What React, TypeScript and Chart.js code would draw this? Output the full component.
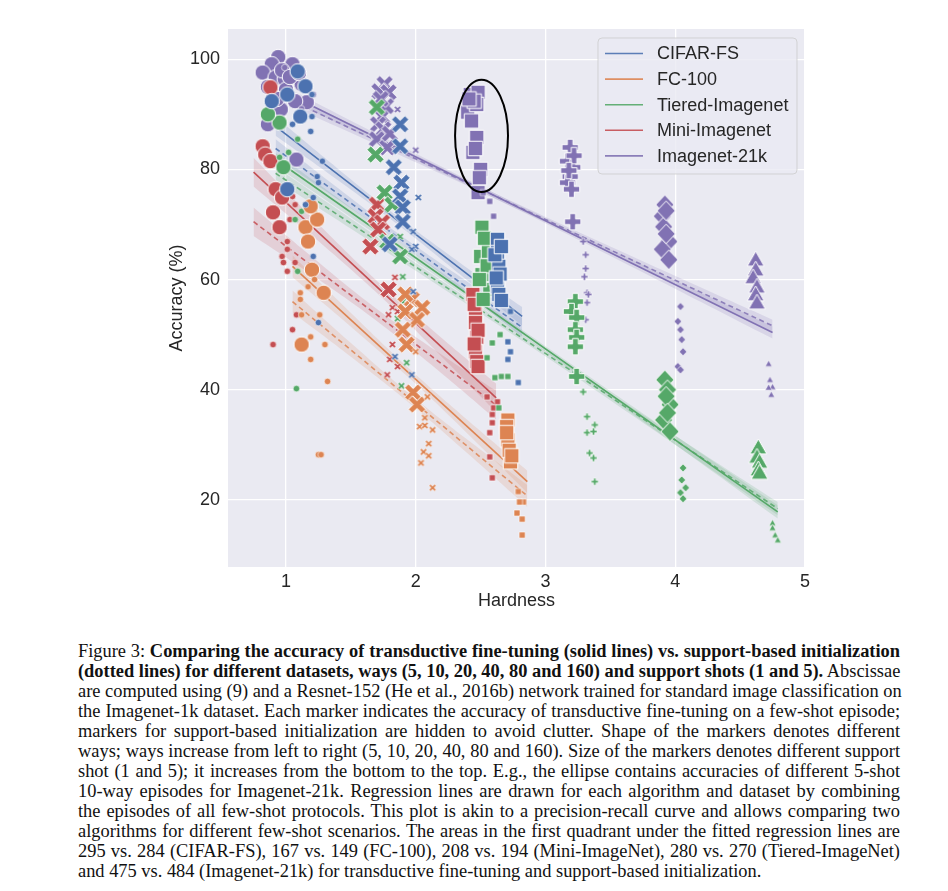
import React, { useEffect, useRef } from "react";
import { Chart, registerables } from "chart.js";

Chart.register(...registerables);

type Pt = [number, number, number]; // [ways, hardness, accuracy]

const datasetNames = ["CIFAR-FS", "FC-100", "Tiered-Imagenet", "Mini-Imagenet", "Imagenet-21k"];
const datasetColors = ["#4C72B0", "#DD8452", "#55A868", "#C44E52", "#8172B3"];
const waysList = [5, 10, 20, 40, 80, 160];
const wayMarkers = ["circle", "x", "square", "plus", "diamond", "triangle"];
const xTickValues = [1, 2, 3, 4, 5];
const yTickValues = [20, 40, 60, 80, 100];
const xRange = [0.553, 5.0];
const yRange = [7.8, 105.5];

// CIFAR-FS
const cifarFiveShot: Pt[] = [
  [5, 1.09, 97.8], [5, 1.01, 93.6], [5, 1.15, 95.1], [5, 1.11, 89.6], [5, 0.89, 92.4], [5, 1.01, 76.4],
  [10, 1.88, 88.2], [10, 1.88, 84.2], [10, 1.83, 80.4], [10, 1.89, 77.6], [10, 1.88, 75.1], [10, 1.9, 73.1], [10, 1.9, 70.5], [10, 1.8, 66.4],
  [20, 2.63, 67.3], [20, 2.63, 64.9], [20, 2.64, 62.4], [20, 2.63, 59.5], [20, 2.63, 58.7], [20, 2.64, 57.3], [20, 2.61, 64.5], [20, 2.65, 61.0],
  [20, 2.66, 66.0], [20, 2.62, 60.3], [20, 2.66, 56.2],
];
const cifarOneShot: Pt[] = [
  [5, 1.2, 93.6], [5, 1.2, 89.6], [5, 1.19, 86.9], [5, 1.28, 81.5], [5, 1.24, 78.7], [5, 1.25, 77.6], [5, 1.05, 88.2], [5, 1.21, 74.9], [5, 1.21, 64.2], [5, 1.15, 73.6], [5, 1.25, 52.2],
  [10, 2.02, 74.9], [10, 1.98, 68.7], [10, 2.0, 66.0], [10, 1.97, 65.5], [10, 1.97, 42.7], [10, 1.84, 46.0], [10, 1.98, 57.8],
  [20, 2.73, 54.2], [20, 2.71, 48.7], [20, 2.73, 46.9], [20, 2.71, 45.5], [20, 2.79, 41.3],
];
// FC-100
const fcFiveShot: Pt[] = [
  [5, 1.15, 69.5], [5, 1.24, 70.9], [5, 1.17, 66.9], [5, 1.2, 61.8], [5, 1.29, 57.6], [5, 1.12, 48.2], [5, 1.19, 73.3],
  [10, 1.97, 56.4], [10, 2.05, 54.9], [10, 1.92, 54.2], [10, 2.01, 52.7], [10, 1.9, 50.9], [10, 1.93, 48.2], [10, 1.98, 39.5], [10, 2.01, 37.3], [10, 1.92, 57.3],
  [20, 2.71, 34.5], [20, 2.7, 33.3], [20, 2.71, 30.9], [20, 2.73, 26.9], [20, 2.72, 29.0], [20, 2.7, 32.2], [20, 2.74, 28.0],
];
const fcOneShot: Pt[] = [
  [5, 1.17, 58.7], [5, 1.11, 57.6], [5, 1.11, 56.4], [5, 1.12, 53.6], [5, 1.26, 53.6], [5, 1.19, 49.6], [5, 1.3, 48.2], [5, 1.19, 45.5], [5, 1.32, 41.5], [5, 1.22, 60.0], [5, 1.25, 28.2], [5, 1.27, 28.2],
  [10, 2.09, 38.7], [10, 2.07, 34.9], [10, 2.03, 33.3], [10, 2.07, 33.5], [10, 2.13, 32.7], [10, 2.1, 30.2], [10, 2.06, 28.7], [10, 2.1, 28.0], [10, 2.04, 26.7], [10, 2.13, 22.2], [10, 2.0, 46.9],
  [20, 2.79, 21.5], [20, 2.83, 19.6], [20, 2.78, 17.6], [20, 2.82, 16.5], [20, 2.82, 13.6], [20, 2.8, 19.6],
];
// Tiered-Imagenet
const tieredFiveShot: Pt[] = [
  [5, 0.95, 88.5], [5, 0.98, 80.4], [5, 0.86, 90.0],
  [10, 1.7, 91.3], [10, 1.69, 82.7], [10, 1.76, 75.8], [10, 1.82, 73.6], [10, 1.88, 64.2], [10, 1.78, 66.9],
  [20, 2.51, 69.5], [20, 2.5, 64.2], [20, 2.51, 60.9], [20, 2.56, 65.1], [20, 2.57, 58.2], [20, 2.52, 56.4], [20, 2.53, 67.5], [20, 2.55, 62.5], [20, 2.49, 60.0],
  [40, 3.23, 56.0], [40, 3.2, 54.2], [40, 3.24, 53.1], [40, 3.23, 50.9], [40, 3.24, 49.5], [40, 3.23, 47.8], [40, 3.24, 42.4],
  [80, 3.92, 41.8], [80, 3.94, 40.0], [80, 3.96, 37.3], [80, 3.91, 34.5], [80, 3.96, 32.4], [80, 3.93, 38.8], [80, 3.94, 35.8],
  [160, 4.64, 29.5], [160, 4.63, 27.8], [160, 4.65, 26.9], [160, 4.64, 25.5], [160, 4.65, 24.9],
];
const tieredOneShot: Pt[] = [
  [5, 1.09, 85.5], [5, 1.02, 83.1], [5, 0.95, 82.2], [5, 1.12, 72.4], [5, 1.22, 72.2], [5, 1.07, 70.9], [5, 1.09, 61.5], [5, 1.08, 40.2],
  [10, 1.88, 67.8], [10, 1.9, 56.0], [10, 1.86, 52.9], [10, 1.93, 44.9], [10, 1.89, 40.7], [10, 1.9, 60.5],
  [20, 2.59, 48.5], [20, 2.55, 45.8], [20, 2.61, 42.2], [20, 2.66, 42.4], [20, 2.71, 42.4], [20, 2.65, 50.0], [20, 2.64, 36.7],
  [40, 3.29, 39.6], [40, 3.32, 35.1], [40, 3.38, 33.6], [40, 3.32, 32.2], [40, 3.37, 32.4], [40, 3.34, 28.5], [40, 3.37, 27.6], [40, 3.38, 23.3],
  [80, 4.06, 25.8], [80, 4.05, 23.6], [80, 4.08, 22.2], [80, 4.04, 21.3], [80, 4.06, 20.2],
  [160, 4.75, 15.8], [160, 4.75, 14.9], [160, 4.77, 13.6], [160, 4.79, 12.7],
];
// Mini-Imagenet
const miniFiveShot: Pt[] = [
  [5, 0.82, 84.2], [5, 0.84, 82.7], [5, 0.88, 81.5], [5, 0.88, 94.9], [5, 0.92, 76.4], [5, 0.97, 74.9], [5, 0.9, 72.2], [5, 0.95, 69.5],
  [10, 1.7, 73.6], [10, 1.69, 71.5], [10, 1.74, 70.4], [10, 1.71, 69.1], [10, 1.65, 66.0], [10, 1.79, 58.2],
  [20, 2.44, 57.3], [20, 2.46, 54.0], [20, 2.46, 52.2], [20, 2.47, 49.5], [20, 2.46, 46.9], [20, 2.47, 45.1],
  [20, 2.45, 55.5], [20, 2.48, 50.8], [20, 2.45, 48.3], [20, 2.48, 44.2],
];
const miniOneShot: Pt[] = [
  [5, 1.01, 66.9], [5, 1.01, 65.5], [5, 0.97, 64.2], [5, 0.98, 63.1], [5, 1.01, 61.5], [5, 1.03, 70.9], [5, 1.07, 63.1], [5, 1.08, 53.6], [5, 1.05, 50.9], [5, 0.9, 48.2], [5, 1.05, 75.1], [5, 1.07, 73.6],
  [10, 1.84, 60.4], [10, 1.82, 54.9], [10, 1.79, 53.6], [10, 1.86, 54.2], [10, 1.82, 48.2], [10, 1.8, 45.5], [10, 1.86, 44.2], [10, 1.78, 42.7],
  [20, 2.55, 38.7], [20, 2.59, 35.5], [20, 2.59, 34.0], [20, 2.57, 32.2], [20, 2.57, 27.8], [20, 2.59, 24.0], [20, 2.63, 37.8], [20, 2.6, 36.7],
];
// Imagenet-21k
const in21kFiveShot: Pt[] = [
  [5, 0.94, 100.4], [5, 0.89, 99.1], [5, 1.05, 99.1], [5, 0.82, 97.6], [5, 0.92, 96.7], [5, 0.99, 96.4], [5, 0.97, 98.0], [5, 1.0, 94.5], [5, 0.9, 93.0], [5, 1.12, 95.5], [5, 0.96, 90.9], [5, 0.86, 88.2], [5, 1.16, 92.2], [5, 1.07, 92.4], [5, 1.08, 81.8],
  [5, 1.03, 96.8], [5, 0.86, 95.0], [5, 1.1, 97.5], [5, 0.93, 92.8],
  [10, 1.76, 95.5], [10, 1.72, 94.2], [10, 1.79, 94.0], [10, 1.74, 89.6], [10, 1.71, 88.2], [10, 1.75, 87.3], [10, 1.7, 85.5], [10, 1.78, 84.0],
  [10, 1.77, 91.5], [10, 1.73, 92.8], [10, 1.8, 86.5],
  [20, 2.42, 93.6], [20, 2.48, 94.0], [20, 2.4, 90.4], [20, 2.47, 91.8], [20, 2.47, 85.8], [20, 2.44, 83.1], [20, 2.5, 80.0], [20, 2.48, 75.8],
  [20, 2.45, 92.4], [20, 2.43, 88.8], [20, 2.49, 78.5], [20, 2.46, 83.8], [20, 2.41, 92.8],
  [40, 3.19, 84.0], [40, 3.17, 81.5], [40, 3.21, 80.4], [40, 3.19, 78.7], [40, 3.17, 77.6], [40, 3.2, 76.4], [40, 3.21, 70.5], [40, 3.22, 82.5], [40, 3.18, 79.8],
  [80, 3.92, 73.6], [80, 3.9, 71.5], [80, 3.91, 69.6], [80, 3.95, 66.9], [80, 3.9, 65.5], [80, 3.95, 63.6], [80, 3.93, 72.5], [80, 3.93, 68.3],
  [160, 4.62, 63.6], [160, 4.62, 61.8], [160, 4.6, 60.4], [160, 4.63, 58.7], [160, 4.62, 57.3], [160, 4.63, 55.8],
];
const in21kOneShot: Pt[] = [
  [5, 1.21, 93.6], [5, 0.99, 98.5], [5, 1.12, 91.0],
  [10, 1.86, 90.9], [10, 2.0, 83.5],
  [20, 2.57, 74.2], [20, 2.6, 71.5], [20, 2.52, 75.8],
  [40, 3.29, 66.9], [40, 3.31, 64.5], [40, 3.31, 62.0], [40, 3.3, 60.5], [40, 3.32, 57.6], [40, 3.33, 57.3], [40, 3.32, 55.8], [40, 3.31, 52.7],
  [80, 4.04, 55.1], [80, 4.02, 52.4], [80, 4.04, 50.9], [80, 4.05, 49.1], [80, 4.06, 46.9], [80, 4.02, 44.2], [80, 4.04, 43.6],
  [160, 4.72, 44.7], [160, 4.73, 41.8], [160, 4.75, 40.5], [160, 4.72, 40.4], [160, 4.74, 39.1],
];

// Regression lines: [[x0, y0], [x1, y1]]
const cifarSolidFit = [[0.92, 87.8], [2.82, 53.3]];
const cifarDashedFit = [[0.92, 83.8], [2.82, 51.3]];
const fcSolidFit = [[1.05, 62.4], [2.86, 23.3]];
const fcDashedFit = [[1.05, 56.0], [2.86, 20.7]];
const tieredSolidFit = [[0.92, 81.8], [4.79, 17.8]];
const tieredDashedFit = [[0.92, 79.3], [4.79, 18.4]];
const miniSolidFit = [[0.75, 79.5], [2.62, 38.5]];
const miniDashedFit = [[0.75, 70.5], [2.62, 37.2]];
const in21kSolidFit = [[0.85, 95.6], [4.75, 50.4]];
const in21kDashedFit = [[0.85, 94.6], [4.75, 51.6]];
// confidence band half-width (accuracy points) at the ends of each fit
const bandHalfWidths = [1.7, 2.0, 1.2, 2.6, 1.1];

// ellipse annotation (hardness, accuracy)
const ellipseCenter = [2.507, 86.1];
const ellipseRadii = [0.204, 10.2];

const captionLines: [string, boolean][][] = [
  [["Figure 3: ", false], ["Comparing the accuracy of transductive fine-tuning (solid lines) vs. support-based initialization", true]],
  [["(dotted lines) for different datasets, ways (5, 10, 20, 40, 80 and 160) and support shots (1 and 5).", true], [" Abscissae", false]],
  [["are computed using (9) and a Resnet-152 (He et al., 2016b) network trained for standard image classification on", false]],
  [["the Imagenet-1k dataset. Each marker indicates the accuracy of transductive fine-tuning on a few-shot episode;", false]],
  [["markers for support-based initialization are hidden to avoid clutter. Shape of the markers denotes different", false]],
  [["ways; ways increase from left to right (5, 10, 20, 40, 80 and 160). Size of the markers denotes different support", false]],
  [["shot (1 and 5); it increases from the bottom to the top. E.g., the ellipse contains accuracies of different 5-shot", false]],
  [["10-way episodes for Imagenet-21k. Regression lines are drawn for each algorithm and dataset by combining", false]],
  [["the episodes of all few-shot protocols. This plot is akin to a precision-recall curve and allows comparing two", false]],
  [["algorithms for different few-shot scenarios. The areas in the first quadrant under the fitted regression lines are", false]],
  [["295 vs. 284 (CIFAR-FS), 167 vs. 149 (FC-100), 208 vs. 194 (Mini-ImageNet), 280 vs. 270 (Tiered-ImageNet)", false]],
  [["and 475 vs. 484 (Imagenet-21k) for transductive fine-tuning and support-based initialization.", false]],
];

const FONT = '"Liberation Sans", Arial, Helvetica, sans-serif';
const TEXT_COLOR = "#262626";

const largeSizes: Record<string, number> = { circle: 15.5, x: 17, square: 14.5, plus: 16.5, diamond: 19.5, triangle: 17 };
const smallSizes: Record<string, number> = { circle: 6.5, x: 7, square: 6, plus: 7, diamond: 8, triangle: 7 };

function hexA(hex: string, a: number) {
  const n = parseInt(hex.slice(1), 16);
  return `rgba(${(n >> 16) & 255},${(n >> 8) & 255},${n & 255},${a})`;
}

function crossPath(g: CanvasRenderingContext2D, L: number, a: number, ang: number) {
  const pts = [[a, -L], [a, -a], [L, -a], [L, a], [a, a], [a, L], [-a, L], [-a, a], [-L, a], [-L, -a], [-a, -a], [-a, -L]];
  const c = Math.cos(ang), s = Math.sin(ang);
  pts.forEach(([px, py], i) => {
    const rx = px * c - py * s, ry = px * s + py * c;
    if (i === 0) g.moveTo(rx, ry); else g.lineTo(rx, ry);
  });
}

function makeMarker(shape: string, color: string, d: number, edge: number) {
  const s = Math.ceil(d + 4);
  const c = document.createElement("canvas");
  c.width = s; c.height = s;
  const g = c.getContext("2d")!;
  g.translate(s / 2, s / 2);
  g.beginPath();
  if (shape === "circle") g.arc(0, 0, d / 2, 0, Math.PI * 2);
  else if (shape === "square") g.rect(-d / 2, -d / 2, d, d);
  else if (shape === "diamond") { const r = d / 2; g.moveTo(0, -r); g.lineTo(r * 0.95, 0); g.lineTo(0, r); g.lineTo(-r * 0.95, 0); }
  else if (shape === "triangle") { const r = d / 2; g.moveTo(0, -r); g.lineTo(r, r * 0.75); g.lineTo(-r, r * 0.75); }
  else if (shape === "plus") crossPath(g, d / 2, d * 0.17, 0);
  else if (shape === "x") crossPath(g, d * 0.56, d * 0.16, Math.PI / 4);
  g.closePath();
  g.fillStyle = color;
  g.fill();
  g.strokeStyle = "#ffffff";
  g.lineWidth = edge;
  g.stroke();
  return c;
}

export default function App() {
  const ref = useRef<HTMLCanvasElement>(null);

  useEffect(() => {
    const canvas = ref.current!;
    const groups = [
      { five: cifarFiveShot, one: cifarOneShot, solid: cifarSolidFit, dashed: cifarDashedFit },
      { five: fcFiveShot, one: fcOneShot, solid: fcSolidFit, dashed: fcDashedFit },
      { five: tieredFiveShot, one: tieredOneShot, solid: tieredSolidFit, dashed: tieredDashedFit },
      { five: miniFiveShot, one: miniOneShot, solid: miniSolidFit, dashed: miniDashedFit },
      { five: in21kFiveShot, one: in21kOneShot, solid: in21kSolidFit, dashed: in21kDashedFit },
    ];

    const datasets: any[] = [];
    groups.forEach((g, gi) => {
      const color = datasetColors[gi];
      const big: Record<number, HTMLCanvasElement> = {};
      const small: Record<number, HTMLCanvasElement> = {};
      waysList.forEach((w, wi) => {
        const shape = wayMarkers[wi];
        big[w] = makeMarker(shape, color, largeSizes[shape], 1);
        small[w] = makeMarker(shape, color, smallSizes[shape], 0.6);
      });
      datasets.push({
        type: "scatter",
        label: datasetNames[gi] + " 1-shot",
        data: g.one.map(([w, x, y]) => ({ x, y, w })),
        pointStyle: (ctx: any) => small[ctx.raw ? ctx.raw.w : 5],
        pointRadius: 4,
        order: 1,
      });
      datasets.push({
        type: "scatter",
        label: datasetNames[gi] + " 5-shot",
        data: g.five.map(([w, x, y]) => ({ x, y, w })),
        pointStyle: (ctx: any) => big[ctx.raw ? ctx.raw.w : 5],
        pointRadius: 7,
        order: 1,
      });
    });

    groups.forEach((g, gi) => {
      const color = datasetColors[gi];
      [g.solid, g.dashed].forEach((fit, k) => {
        datasets.push({
          type: "line",
          label: datasetNames[gi] + (k === 0 ? " fine-tuning" : " support init"),
          data: fit.map(([x, y]) => ({ x, y })),
          borderColor: k === 0 ? color : hexA(color, 0.85),
          borderWidth: 1.6,
          borderDash: k === 0 ? [] : [5, 3.5],
          pointRadius: 0,
          fill: false,
          tension: 0,
          order: 2,
        });
      });
    });

    const bandShape = [1, 0.62, 0.42, 0.62, 1];
    groups.forEach((g, gi) => {
      const color = datasetColors[gi];
      const w = bandHalfWidths[gi];
      [g.solid, g.dashed].forEach((fit) => {
        const [[x0, y0], [x1, y1]] = fit;
        const mk = (sign: number) =>
          bandShape.map((f, i) => {
            const t = i / (bandShape.length - 1);
            return { x: x0 + (x1 - x0) * t, y: y0 + (y1 - y0) * t + sign * w * f };
          });
        datasets.push({
          type: "line",
          label: "band-upper",
          data: mk(1),
          borderWidth: 0,
          pointRadius: 0,
          backgroundColor: hexA(color, 0.17),
          fill: "+1",
          tension: 0.4,
          order: 3,
        });
        datasets.push({
          type: "line",
          label: "band-lower",
          data: mk(-1),
          borderWidth: 0,
          pointRadius: 0,
          fill: false,
          tension: 0.4,
          order: 3,
        });
      });
    });

    const decorPlugin = {
      id: "decor",
      beforeDraw(chart: any) {
        const { ctx, chartArea: a } = chart;
        ctx.save();
        ctx.fillStyle = "#EAEAF2";
        ctx.fillRect(a.left, a.top, a.right - a.left, a.bottom - a.top);
        ctx.restore();
      },
      afterDatasetsDraw(chart: any) {
        const { ctx, chartArea: a } = chart;
        const xs = chart.scales.x, ys = chart.scales.y;
        const cx = xs.getPixelForValue(ellipseCenter[0]);
        const cy = ys.getPixelForValue(ellipseCenter[1]);
        const rx = Math.abs(xs.getPixelForValue(ellipseCenter[0] + ellipseRadii[0]) - cx);
        const ry = Math.abs(ys.getPixelForValue(ellipseCenter[1] + ellipseRadii[1]) - cy);
        ctx.save();
        ctx.beginPath();
        ctx.ellipse(cx, cy, rx, ry, 0, 0, Math.PI * 2);
        ctx.strokeStyle = "#000";
        ctx.lineWidth = 2;
        ctx.stroke();
        ctx.restore();

        const bw = 199, bh = 136;
        const bx = a.right - 207, by = a.top + 9;
        ctx.save();
        ctx.beginPath();
        if (ctx.roundRect) ctx.roundRect(bx, by, bw, bh, 4); else ctx.rect(bx, by, bw, bh);
        ctx.fillStyle = "rgba(234,234,242,0.8)";
        ctx.fill();
        ctx.strokeStyle = "rgba(204,204,204,0.8)";
        ctx.lineWidth = 1;
        ctx.stroke();
        ctx.font = `18px ${FONT}`;
        ctx.textBaseline = "middle";
        ctx.textAlign = "left";
        datasetNames.forEach((name, i) => {
          const yy = by + 15.5 + i * 25.6;
          ctx.beginPath();
          ctx.moveTo(bx + 7, yy);
          ctx.lineTo(bx + 45, yy);
          ctx.strokeStyle = hexA(datasetColors[i], 0.9);
          ctx.lineWidth = 1.6;
          ctx.stroke();
          ctx.fillStyle = TEXT_COLOR;
          ctx.fillText(name, bx + 59, yy + 1);
        });
        ctx.restore();
      },
    };

    const chart = new Chart(canvas, {
      type: "scatter",
      data: { datasets },
      plugins: [decorPlugin],
      options: {
        animation: false,
        responsive: false,
        devicePixelRatio: 1,
        events: [],
        layout: { padding: { left: 158, right: 135, top: 21, bottom: 11 } },
        plugins: { legend: { display: false }, tooltip: { enabled: false } },
        scales: {
          x: {
            type: "linear",
            min: xRange[0],
            max: xRange[1],
            afterBuildTicks: (s: any) => { s.ticks = xTickValues.map((v) => ({ value: v })); },
            afterFit: (s: any) => { s.height = 45; },
            grid: { color: "#ffffff", lineWidth: 1.3, drawTicks: false },
            border: { display: false },
            ticks: { padding: 4, color: TEXT_COLOR, font: { family: FONT, size: 18 } },
            title: { display: true, text: "Hardness", color: TEXT_COLOR, font: { family: FONT, size: 18 }, padding: 0 },
          },
          y: {
            type: "linear",
            min: yRange[0],
            max: yRange[1],
            afterBuildTicks: (s: any) => { s.ticks = yTickValues.map((v) => ({ value: v })); },
            afterFit: (s: any) => { s.width = 62; },
            grid: { color: "#ffffff", lineWidth: 1.3, drawTicks: false },
            border: { display: false },
            ticks: { padding: 8, color: TEXT_COLOR, font: { family: FONT, size: 18 } },
            title: { display: true, text: "Accuracy (%)", color: TEXT_COLOR, font: { family: FONT, size: 18 }, padding: 0 },
          },
        },
      } as any,
    });
    return () => chart.destroy();
  }, []);

  const last = captionLines.length - 1;
  return (
    <div style={{ width: 932 }}>
      <canvas ref={ref} width={932} height={615} style={{ display: "block", width: 932, height: 615 }} />
      <div
        style={{
          marginLeft: 70,
          marginTop: 18,
          width: 822,
          fontFamily: '"Liberation Serif", "Times New Roman", Times, serif',
          fontSize: "18.4px",
          lineHeight: "20px",
          color: "#111111",
        }}
      >
        {captionLines.map((segs, i) => (
          <div
            key={i}
            style={{
              whiteSpace: "nowrap",
              textAlign: i === last ? "left" : "justify",
              textAlignLast: i === last ? "left" : "justify",
            } as any}
          >
            {segs.map(([t, b], j) => (b ? <b key={j}>{t}</b> : <span key={j}>{t}</span>))}
          </div>
        ))}
      </div>
    </div>
  );
}
